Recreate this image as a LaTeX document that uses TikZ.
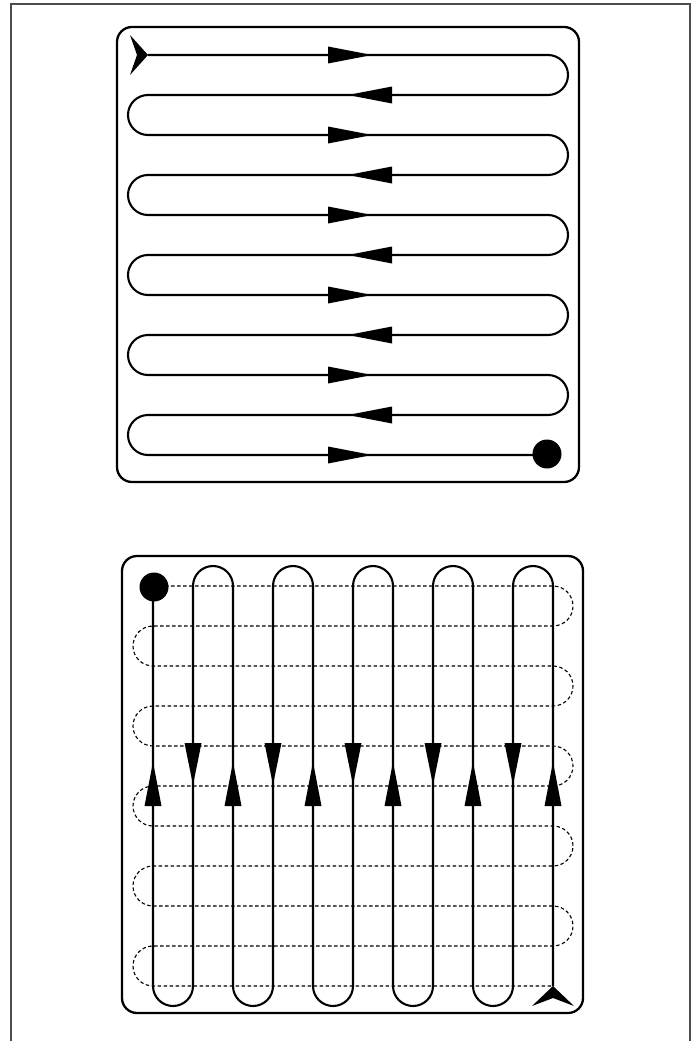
\documentclass[tikz,border=0pt]{standalone}
\begin{document}
\begin{tikzpicture}[x=1pt,y=-1pt,
  frame/.style={draw=black!70, line width=1.3pt},
  panel/.style={draw, line width=2.3pt, rounded corners=15pt},
  route/.style={draw, line width=2.1pt, rounded corners=20pt},
  guide/.style={draw, line width=1.1pt, dash pattern=on 3.5pt off 2.5pt, rounded corners=20pt},
  tipfill/.style={fill=black}]
\useasboundingbox (0,0) rectangle (698,1041);
\draw[frame] (11,1041) -- (11,4) -- (690,4) -- (690,1041);
% ---------- top panel ----------
\draw[panel] (117,27) rectangle (579,482);
\draw[route] (148,55) foreach \k in {0,...,4} { -- (568,55+80*\k) -- (568,95+80*\k) -- (128,95+80*\k) -- (128,135+80*\k) } -- (547,455);
\fill[tipfill] (547,454) circle (14.5pt);
\fill[tipfill] (148,55) -- (130,35) -- (137,55) -- (130,75) -- cycle;
\foreach \k in {0,...,5} {
  \fill[tipfill] (328,46.5+80*\k) -- (372,55+80*\k) -- (328,63.5+80*\k) -- cycle;
}
\foreach \k in {0,...,4} {
  \fill[tipfill] (392,86.5+80*\k) -- (348,95+80*\k) -- (392,103.5+80*\k) -- cycle;
}
% ---------- bottom panel ----------
\draw[panel] (122,556) rectangle (583,1013);
\draw[guide] (153,586) foreach \k in {0,...,4} { -- (573,586+80*\k) -- (573,626+80*\k) -- (133,626+80*\k) -- (133,666+80*\k) } -- (553,986);
\draw[route] (553,986) foreach \k in {0,...,4} { -- (553-80*\k,566) -- (513-80*\k,566) -- (513-80*\k,1006) -- (473-80*\k,1006) } -- (153,586);
\fill[tipfill] (154,587) circle (14.5pt);
\fill[tipfill] (553,986) -- (532,1006) -- (553,998) -- (574,1006) -- cycle;
\foreach \k in {0,...,4} {
  \fill[tipfill] (184.5+80*\k,743) -- (193+80*\k,785) -- (201.5+80*\k,743) -- cycle;
}
\foreach \k in {0,...,5} {
  \fill[tipfill] (144.5+80*\k,806) -- (153+80*\k,762) -- (161.5+80*\k,806) -- cycle;
}
\end{tikzpicture}
\end{document}
